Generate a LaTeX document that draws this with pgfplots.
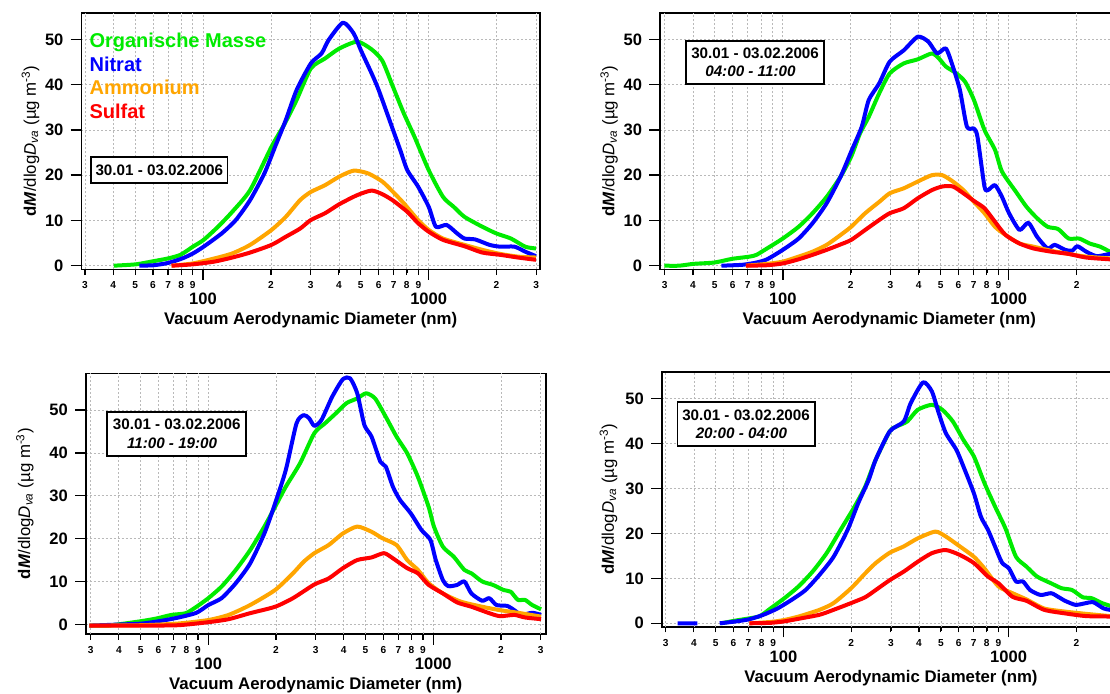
\documentclass[border=0pt]{standalone}
\usepackage{fontspec}
\setmainfont{Liberation Sans}
\usepackage{pgfplots}
\pgfplotsset{compat=1.18}
\definecolor{cOM}{RGB}{0,235,0}
\definecolor{cNO}{RGB}{0,0,255}
\definecolor{cNH}{RGB}{255,165,0}
\definecolor{cSO}{RGB}{255,0,0}
\pgfplotsset{
  panel/.style={
    scale only axis,
    axis line style={line width=1.2pt},
    tick align=outside, tick pos=left,
    major tick length=8pt,
    tick style={black, line width=1.1pt},
    xtick={100,1000}, xticklabels={100,1000},
    minor xtick={},
    ytick={0,10,20,30,40,50},
    /pgf/number format/assume math mode=true,
    tick label style={font=\fontsize{12.4}{14}\selectfont\bfseries},
    xticklabel style={anchor=center, inner sep=0pt, yshift=-14.5pt},
    yticklabel style={anchor=east, inner sep=0pt, xshift=-5.3pt},
    extra x tick style={grid=major, major tick length=4.3pt,
      tick style={line width=0.9pt},
      xticklabel style={font=\fontsize{7.6}{9}\selectfont\bfseries, yshift=6.8pt}},
    grid=major,
    major grid style={gray!55, line width=0.5pt, dash pattern=on 1.5pt off 1.5pt},
    xlabel={\bfseries Vacuum Aerodynamic Diameter (nm)},
    xlabel style={font=\fontsize{12.6}{15}\selectfont, at={(axis description cs:0.5,0)}, anchor=center, yshift=-38.5pt},
    ylabel={\textbf{d\textit{M}}/dlog\textit{D}\textsubscript{\textit{va}} (µg m\textsuperscript{-3})},
    ylabel style={font=\fontsize{12.6}{15}\selectfont, anchor=center},
    every axis plot/.append style={line width=3pt, no marks, line join=round, smooth, tension=0.4},
    unbounded coords=jump,
  },
  leftpanel/.style={panel,
    extra x ticks={30,40,50,60,70,80,90,200,300,400,500,600,700,800,900,2000,3000},
    extra x tick labels={3,4,5,6,7,8,9,2,3,4,5,6,7,8,9,2,3}},
  rightpanel/.style={panel,
    extra x ticks={30,40,50,60,70,80,90,200,300,400,500,600,700,800,900,2000,3000},
    extra x tick labels={3,4,5,6,7,8,9,2,3,4,5,6,7,8,9,2,{}}},
}
\begin{document}
\begin{tikzpicture}
\path[use as bounding box] (0pt,0pt) rectangle (832.5pt,-519.75pt);
\clip (0pt,0pt) rectangle (832.5pt,-519.75pt);

% ---------------- top left
\begin{semilogxaxis}[leftpanel, at={(61.05pt,-9.525pt)}, anchor=north west,
  width=343.95pt, height=192.45pt,
  xmin=28.9, xmax=3116, ymin=-0.8, ymax=55.9,
  ylabel style={at={(axis description cs:-0.111,0.5)}}]
\addplot[cOM] coordinates {(40.2,0) (50.4,0.3) (60.4,1.0) (69.9,1.6) (79.4,2.4) (90.2,4.2) (100.6,5.7) (116.5,8.6) (134.7,11.9) (161.7,16.7) (201.2,26.3) (228.6,31.1) (259.8,36.6) (300.6,43.6) (347.7,45.8) (402.3,48.0) (482.8,49.5) (558.6,47.8) (623.0,45.3) (695.2,39.5) (775.6,33.7) (865.1,28.5) (1001,21.1) (1158,15.2) (1292,13.0) (1441,10.8) (1730,8.6) (2001,7.1) (2316,6.0) (2679,4.2) (2989,3.8)};
\addplot[cNO] coordinates {(52.2,0) (60.4,0.1) (69.9,0.6) (80.9,1.6) (90.2,2.7) (100.6,4.2) (120.8,7.1) (139.8,10.1) (161.7,14.5) (187.1,20.4) (208.7,26.3) (232.8,32.2) (259.8,38.8) (300.6,44.7) (335.3,46.9) (360.7,49.9) (417.2,53.7) (465.5,51.3) (500.8,47.6) (558.6,42.5) (600.7,38.8) (695.2,30.0) (747.8,25.6) (804.4,21.1) (897.2,17.5) (1001,13.0) (1077,8.6) (1201,9.0) (1340,7.1) (1441,6.0) (1608,5.8) (1861,4.6) (2076,4.2) (2402,4.2) (2679,3.1) (2989,2.1)};
\addplot[cNH] coordinates {(72.5,0) (90.2,0.5) (112.3,1.6) (134.7,2.7) (161.7,4.6) (201.2,7.9) (232.8,10.8) (269.4,14.5) (300.6,16.3) (347.7,17.8) (402.3,19.7) (465.5,21.0) (538.6,20.4) (623.0,18.6) (695.2,16.3) (775.6,13.8) (897.2,10.1) (1001,7.9) (1158,6.0) (1441,4.6) (1730,3.5) (2076,2.6) (2491,2.0) (2989,1.8)};
\addplot[cSO] coordinates {(72.5,0) (90.2,0.3) (112.3,0.9) (134.7,1.8) (161.7,2.9) (201.2,4.6) (232.8,6.4) (269.4,8.2) (300.6,10.1) (347.7,11.6) (402.3,13.6) (482.8,15.6) (558.6,16.6) (623.0,15.8) (695.2,14.4) (804.4,11.9) (897.2,9.4) (1001,7.5) (1158,5.7) (1441,4.3) (1730,2.9) (2076,2.4) (2491,1.8) (2989,1.3)};
\end{semilogxaxis}

% ---------------- top right
\begin{semilogxaxis}[rightpanel, at={(495pt,-9.525pt)}, anchor=north west,
  width=343.95pt, height=192.45pt,
  xmin=28.6, xmax=3068, ymin=-0.8, ymax=55.9,
  ylabel style={at={(axis description cs:-0.111,0.5)}}]
\addplot[cOM] coordinates {(29.9,0) (34.8,0) (40.2,0.4) (49.8,0.7) (59.5,1.5) (71.2,2.0) (76.5,2.4) (85.1,3.8) (100,6.0) (117.5,8.6) (135.5,11.6) (156.4,15.2) (180.4,19.7) (200.8,24.1) (219.6,29.2) (240.2,32.9) (267.3,38.1) (297.6,42.5) (343.4,44.7) (396.1,45.6) (457.1,46.9) (490.9,45.8) (527.2,44.0) (586.8,42.5) (642.0,40.6) (702.1,36.6) (781.5,30.0) (869.9,25.6) (934.3,20.8) (1078,16.3) (1200,13.0) (1336,10.5) (1487,8.6) (1656,8.1) (1843,6.0) (2052,6.0) (2284,4.9) (2543,4.2) (2811,3.1) (3000,2.8)};
\addplot[cNO] coordinates {(53.5,0) (66.3,0.2) (76.5,0.7) (85.1,1.4) (100,3.5) (117.5,6.0) (135.5,9.4) (156.4,13.8) (180.4,19.7) (200.8,25.2) (223.6,30.7) (240.2,36.6) (267.3,40.3) (297.6,45.1) (343.4,47.6) (396.1,50.6) (441.0,49.5) (482.2,46.9) (527.2,48.0) (566.3,44.0) (608.4,38.8) (653.6,30.7) (702.1,30.3) (727.5,28.5) (781.5,17.5) (809.9,16.7) (869.9,17.8) (934.3,15.2) (1004,11.6) (1117,7.9) (1222,9.5) (1336,6.4) (1487,3.8) (1598,4.6) (1778,3.5) (1910,3.3) (2015,4.3) (2204,3.1) (2454,2.1) (2811,2.6) (3000,2.5)};
\addplot[cNH] coordinates {(68.7,0) (85.1,0.4) (100,0.9) (117.5,2.0) (135.5,3.1) (156.4,4.6) (180.4,6.8) (200.8,8.6) (231.7,11.6) (267.3,14.1) (297.6,16.0) (343.4,17.1) (396.1,18.6) (457.1,20.0) (508.6,20.0) (566.3,18.6) (630.5,16.7) (702.1,14.1) (781.5,11.6) (869.9,8.6) (968.2,6.8) (1117,4.9) (1289,4.2) (1541,3.3) (1843,2.6) (2204,2.0) (2811,1.6) (3000,1.5)};
\addplot[cSO] coordinates {(68.7,0) (85.1,0.1) (100,0.5) (117.5,1.4) (135.5,2.4) (156.4,3.5) (180.4,4.7) (200.8,5.7) (231.7,7.9) (267.3,10.1) (297.6,11.6) (343.4,12.7) (396.1,14.9) (457.1,16.7) (508.6,17.5) (566.3,17.5) (630.5,16.0) (702.1,14.3) (781.5,12.7) (869.9,9.7) (968.2,6.8) (1117,4.9) (1289,3.8) (1541,3.1) (1843,2.6) (2204,1.8) (2811,1.4) (3000,1.3)};
\end{semilogxaxis}

% ---------------- bottom left
\begin{semilogxaxis}[leftpanel, at={(64.275pt,-279.975pt)}, anchor=north west,
  width=345pt, height=195.525pt,
  xmin=28.5, xmax=3162, ymin=-2.26, ymax=58.56,
  ylabel style={at={(axis description cs:-0.132,0.5)}}]
\addplot[cOM] coordinates {(29.6,-0.3) (35.6,-0.3) (42.7,0.2) (51.2,0.8) (59.3,1.4) (68.6,2.2) (79.4,2.6) (88.6,4.1) (100,6.1) (114.5,8.8) (132.5,12.7) (153.4,17.3) (177.5,22.8) (198.1,27.4) (221.0,32.1) (255.9,37.6) (296.1,44.6) (330.4,46.9) (368.7,49.2) (411.5,51.6) (459.2,52.7) (503.0,53.9) (551.3,52.7) (615.1,48.4) (686.4,43.8) (765.9,39.9) (854.6,34.4) (953.7,27.4) (1007,22.8) (1104,18.1) (1232,15.8) (1375,12.7) (1478,11.9) (1650,10.0) (1842,9.2) (2055,8.0) (2210,7.6) (2378,5.7) (2558,5.7) (2753,4.5) (3016,3.5)};
\addplot[cNO] coordinates {(29.6,-0.3) (42.7,0) (51.2,0.2) (61.5,0.8) (73.8,1.6) (88.6,2.7) (100,4.5) (114.5,6.1) (132.5,9.6) (153.4,14.2) (177.5,21.2) (198.1,28.2) (221.0,36.0) (246.7,46.9) (265.4,48.8) (280.4,48.1) (296.1,46.3) (318.6,47.7) (355.5,53.1) (396.6,57.2) (426.8,57.4) (459.2,53.9) (494.0,46.5) (531.5,43.8) (582.4,37.9) (615.1,36.8) (661.7,32.1) (711.9,29.0) (794.3,25.9) (886.4,22.0) (971.2,19.7) (1026,15.0) (1104,10.3) (1166,8.9) (1278,9.2) (1375,10.0) (1478,7.2) (1650,5.5) (1775,6.1) (1910,4.5) (2131,4.3) (2293,3.3) (2467,2.2) (2753,2.7) (3016,2.2)};
\addplot[cNH] coordinates {(29.6,-0.3) (51.2,-0.2) (73.8,0.2) (100,1.0) (123.1,2.2) (153.4,4.5) (198.1,8.0) (237.8,11.9) (265.4,14.6) (296.1,16.6) (342.7,18.5) (396.6,21.2) (459.2,22.8) (531.5,21.6) (593.1,20.1) (686.4,18.5) (765.9,15.0) (854.6,12.7) (953.7,9.6) (1104,7.2) (1325,5.3) (1650,4.1) (1981,3.3) (2378,2.7) (3016,1.8)};
\addplot[cSO] coordinates {(29.6,-0.3) (51.2,-0.3) (73.8,-0.2) (100,0.5) (123.1,1.2) (153.4,2.6) (198.1,4.1) (237.8,6.1) (296.1,9.3) (342.7,10.7) (396.6,13.1) (459.2,15.0) (531.5,15.6) (603.9,16.6) (661.7,15.4) (765.9,13.1) (854.6,11.9) (953.7,9.2) (1104,7.2) (1278,5.1) (1478,4.1) (1775,2.6) (1981,1.9) (2293,2.2) (2558,1.6) (3016,1.2)};
\end{semilogxaxis}

% ---------------- bottom right
\begin{semilogxaxis}[rightpanel, at={(496.275pt,-279pt)}, anchor=north west,
  width=343.95pt, height=191.025pt,
  xmin=28.8, xmax=3133, ymin=-0.76, ymax=55.9,
  ylabel style={at={(axis description cs:-0.116,0.5)}}]
\addplot[cOM] coordinates {(53.0,0) (61.2,0.6) (70.6,1.1) (78.6,1.6) (87.6,3.3) (101.1,5.6) (116.7,8.2) (134.7,11.5) (155.5,15.6) (179.4,20.8) (207.2,26.0) (230.7,30.4) (256.9,36.4) (296.5,42.7) (318.5,43.8) (354.7,44.9) (395.0,47.5) (456.0,48.6) (507.7,47.5) (565.3,44.9) (629.6,40.8) (701.3,37.1) (780.9,31.2) (869.8,26.0) (968.3,21.1) (1078,14.8) (1201,12.6) (1337,10.4) (1543,8.9) (1719,7.8) (1914,7.4) (2132,5.8) (2331,5.6) (2597,4.5) (2820,3.9) (3000,3.6)};
\addplot[cNO] coordinates {(33.9,0) (41.5,0) (46,nan) (52.1,0) (61.2,0.4) (70.6,0.9) (81.5,1.9) (94.1,3.3) (108.6,5.2) (125.4,7.4) (144.7,10.8) (167.0,14.8) (192.8,20.8) (214.7,26.7) (239.1,31.9) (256.9,36.4) (296.5,42.7) (342.2,44.9) (367.6,49.0) (416.9,53.6) (456.0,51.6) (489.8,46.7) (526.2,42.3) (586.0,38.6) (629.6,34.9) (701.3,28.9) (753.4,23.7) (809.5,20.8) (869.8,17.1) (934.1,13.5) (1004,12.2) (1078,9.3) (1158,9.3) (1245,7.4) (1386,6.3) (1543,6.7) (1658,5.9) (1781,5.0) (1984,4.1) (2209,4.5) (2374,4.7) (2643,3.3) (2820,3.0) (3000,2.8)};
\addplot[cNH] coordinates {(70.6,0) (87.6,0.3) (100,0.7) (116.7,1.5) (144.7,3.0) (167.0,4.5) (199.8,7.8) (230.7,11.1) (256.9,13.4) (296.5,15.7) (342.2,17.1) (395.0,18.9) (472.6,20.4) (526.2,19.3) (607.4,17.1) (701.3,14.8) (780.9,12.2) (901.5,8.2) (1040,6.7) (1201,5.3) (1437,3.3) (1781,2.6) (2209,2.1) (2820,1.6) (3000,1.5)};
\addplot[cSO] coordinates {(70.6,0) (87.6,0.1) (100,0.4) (116.7,1.0) (144.7,1.9) (167.0,3.0) (199.8,4.5) (230.7,5.8) (256.9,7.4) (296.5,9.6) (342.2,11.5) (395.0,13.7) (456.0,15.6) (526.2,16.3) (607.4,15.2) (701.3,13.4) (809.5,10.4) (901.5,8.9) (1040,5.9) (1201,5.0) (1437,3.0) (1781,2.2) (2209,1.6) (2820,1.5) (3000,1.4)};
\end{semilogxaxis}

% legend (top left)
\begin{scope}[every node/.style={anchor=mid west, inner sep=0pt, font=\fontsize{15}{18}\selectfont\bfseries}]
\node[text=cOM] at (66.975pt,-33.2pt) {Organische Masse};
\node[text=cNO] at (66.975pt,-51.2pt) {Nitrat};
\node[text=cNH] at (66.975pt,-68.25pt) {Ammonium};
\node[text=cSO] at (66.975pt,-86.25pt) {Sulfat};
\end{scope}

% inset boxes
\begin{scope}[every node/.style={draw=black, line width=1.4pt, fill=white, inner sep=0pt, align=center, font=\fontsize{11.4}{13.8}\selectfont\bfseries}]
\node[minimum width=102.3pt, minimum height=19.5pt] at (119.5pt,-127.7pt) {30.01 - 03.02.2006};
\node[minimum width=103.1pt, minimum height=32.5pt] at (566.3pt,-46.76pt) {30.01 - 03.02.2006\\\textit{04:00 - 11:00}\hspace*{7pt}};
\node[minimum width=104.5pt, minimum height=33pt] at (132.56pt,-325.28pt) {30.01 - 03.02.2006\\\textit{11:00 - 19:00}\hspace*{7pt}};
\node[minimum width=102.8pt, minimum height=32.8pt] at (559.54pt,-318.11pt) {30.01 - 03.02.2006\\\textit{20:00 - 04:00}\hspace*{7pt}};
\end{scope}
\end{tikzpicture}
\end{document}
